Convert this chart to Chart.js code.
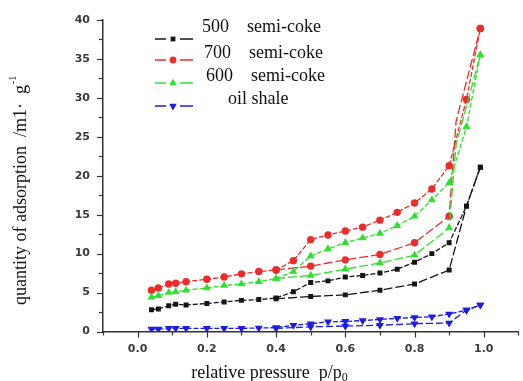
<!DOCTYPE html>
<html>
<head>
<meta charset="utf-8">
<script src="https://cdn.jsdelivr.net/npm/chart.js@4"></script>
<style>
html,body{margin:0;padding:0;background:#fff;}
#wrap{width:523px;height:381px;position:relative;}
</style>
</head>
<body>
<div id="wrap"><canvas id="c" width="523" height="381"></canvas></div>
<script>
// ---- data ----
const pUpper = [0.04,0.06,0.09,0.11,0.14,0.20,0.25,0.30,0.35,0.40,0.45,0.50,0.55,0.60,0.65,0.70,0.75,0.80,0.85,0.90,0.95,0.99];
const pLower500 = [0.40,0.50,0.60,0.70,0.80,0.90,0.95,0.99];
const pLowerSemi = [0.40,0.50,0.60,0.70,0.80,0.90,0.92,0.99];
const pLowerShale = [0.40,0.50,0.60,0.70,0.80,0.90,0.95,0.99];

const coke500Upper = [2.8,2.9,3.3,3.5,3.4,3.6,3.8,4.0,4.1,4.3,5.1,6.3,6.5,7.0,7.2,7.5,8.0,8.9,10.0,11.4,16.1,21.1];
const coke500Lower = [4.2,4.5,4.7,5.3,6.1,7.9,16.1,21.1];
const coke700Upper = [5.3,5.6,6.1,6.2,6.4,6.7,7.0,7.4,7.7,7.9,9.1,11.8,12.4,12.9,13.4,14.3,15.3,16.5,18.3,21.3,29.8,38.9];
const coke700Lower = [7.9,8.4,9.2,9.9,11.4,14.8,27.0,38.9];
const coke600Upper = [4.4,4.6,5.0,5.1,5.3,5.6,5.9,6.1,6.4,6.8,7.7,9.7,10.6,11.4,12.0,12.6,13.6,14.8,16.9,19.1,26.3,35.5];
const coke600Lower = [6.8,7.2,8.0,8.8,9.8,13.3,24.0,35.5];
const shaleUpper = [0.3,0.3,0.4,0.4,0.4,0.4,0.4,0.4,0.45,0.5,0.8,1.0,1.25,1.3,1.4,1.55,1.7,1.8,1.9,2.25,2.75,3.4];
const shaleLower = [0.4,0.6,0.7,0.8,1.0,1.1,2.75,3.4];

const legendLabels = ["500    semi-coke","700    semi-coke","600    semi-coke","oil shale"];
const xTicks = [0.0,0.2,0.4,0.6,0.8,1.0];
const yTicks = [0,5,10,15,20,25,30,35,40];

// ---- styles ----
const C_BLACK = '#151515', C_RED = '#ee2a2a', C_GREEN = '#2fe02f', C_BLUE = '#1c1ce6';
const pts = (xs, ys) => xs.map((x,i)=>({x:x, y:ys[i]}));

function ds(label, xs, ys, color, style, rot, r, dash){
  return {
    label, data: pts(xs, ys), borderColor: color, backgroundColor: color,
    borderWidth: 1.3, borderDash: dash, pointStyle: style, rotation: rot,
    pointRadius: ctx => (ctx.raw && ctx.raw.x === 0.92) ? 0 : r,
    pointBorderWidth: 0, tension: 0, fill: false
  };
}

const datasets = [
  ds('oil shale a', pUpper, shaleUpper, C_BLUE, 'triangle', 180, 4.6, [5,2]),
  ds('oil shale d', pLowerShale, shaleLower, C_BLUE, 'triangle', 180, 4.6, [7,3]),
  ds('500 a', pUpper, coke500Upper, C_BLACK, 'rect', 0, 3.5, [5,2]),
  ds('500 d', pLower500, coke500Lower, C_BLACK, 'rect', 0, 3.5, [9,3]),
  ds('600 a', pUpper, coke600Upper, C_GREEN, 'triangle', 0, 4.6, [5,2]),
  ds('600 d', pLowerSemi, coke600Lower, C_GREEN, 'triangle', 0, 4.6, [9,3]),
  ds('700 a', pUpper, coke700Upper, C_RED, 'circle', 0, 3.7, [5,2]),
  ds('700 d', pLowerSemi, coke700Lower, C_RED, 'circle', 0, 3.7, [9,3]),
];

const legendItems = [
  {text: legendLabels[0], color: C_BLACK, style: 'rect', rot: 0, r: 3.4, tx: 202, ty: 27},
  {text: legendLabels[1], color: C_RED, style: 'circle', rot: 0, r: 3.4, tx: 204, ty: 53},
  {text: legendLabels[2], color: C_GREEN, style: 'triangle', rot: 0, r: 4.4, tx: 206, ty: 76},
  {text: legendLabels[3], color: C_BLUE, style: 'triangle', rot: 180, r: 4.4, tx: 228, ty: 99},
];
const legendLineY = [39, 60, 83, 106];

const decor = {
  id: 'decor',
  afterDraw(chart){
    const ctx = chart.ctx;
    const xs = chart.scales.x, ys = chart.scales.y;
    ctx.save();
    // ticks
    ctx.strokeStyle = '#333'; ctx.lineWidth = 1.2;
    for (let v = 0; v <= 40.001; v += 2.5){
      const py = Math.round(ys.getPixelForValue(v)) + 0.5;
      const len = (Math.abs(v % 5) < 1e-6) ? 6 : 4;
      ctx.beginPath(); ctx.moveTo(xs.left - len, py); ctx.lineTo(xs.left, py); ctx.stroke();
    }
    for (let i = -1; i <= 11; i++){
      const v = i/10;
      const px = Math.round(xs.getPixelForValue(v)) + 0.5;
      const len = (i % 2 === 0) ? 6 : 4;
      ctx.beginPath(); ctx.moveTo(px, ys.bottom); ctx.lineTo(px, ys.bottom + len); ctx.stroke();
    }
    // legend
    legendItems.forEach((it, i) => {
      const ly = legendLineY[i];
      ctx.strokeStyle = it.color; ctx.lineWidth = 1.5; ctx.setLineDash([]);
      ctx.beginPath(); ctx.moveTo(155, ly); ctx.lineTo(166, ly); ctx.stroke();
      ctx.beginPath(); ctx.moveTo(180, ly); ctx.lineTo(193, ly); ctx.stroke();
      ctx.fillStyle = it.color;
      Chart.helpers.drawPoint(ctx, {pointStyle: it.style, rotation: it.rot, radius: it.r, borderWidth: 0}, 173, ly);
      ctx.fillStyle = '#111';
      ctx.font = '18px "Liberation Serif"';
      ctx.textBaseline = 'middle'; ctx.textAlign = 'left';
      ctx.fillText(it.text, it.tx, it.ty);
    });
    // axis titles
    ctx.fillStyle = '#111';
    ctx.font = '18px "Liberation Serif"';
    ctx.textBaseline = 'alphabetic';
    const xt = 'relative pressure  p/p';
    const w = ctx.measureText(xt).width;
    const x0 = 270 - (w + 7)/2;
    ctx.textAlign = 'left';
    ctx.fillText(xt, x0, 378);
    ctx.font = '12px "Liberation Serif"';
    ctx.fillText('0', x0 + w, 381);
    // y title
    ctx.save();
    ctx.translate(26, 191);
    ctx.rotate(-Math.PI/2);
    ctx.font = '18px "Liberation Serif"';
    const yt = 'quantity of adsorption  /m1·  g';
    const wy = ctx.measureText(yt).width;
    const y0 = -(wy + 8)/2;
    ctx.fillText(yt, y0, 0);
    ctx.font = '10px "Liberation Serif"';
    ctx.fillText('-1', y0 + wy + 1, -10);
    ctx.restore();
    ctx.restore();
  }
};

new Chart(document.getElementById('c'), {
  type: 'line',
  data: { datasets },
  options: {
    responsive: false, animation: false,
    layout: { padding: { left: 0, right: 4, top: 20, bottom: 0 } },
    plugins: { legend: { display: false }, tooltip: { enabled: false } },
    scales: {
      x: {
        type: 'linear', min: -0.1, max: 1.1,
        afterFit: s => { s.height = 49.5; },
        afterBuildTicks: s => { s.ticks = xTicks.map(v => ({value: v})); },
        grid: { display: false, drawTicks: false },
        border: { display: true, color: '#333', width: 1.5 },
        ticks: { padding: 11, color: '#3a3a3a', font: { family: 'DejaVu Sans', weight: 'bold', size: 11 },
                 callback: v => v.toFixed(1) }
      },
      y: {
        type: 'linear', min: 0, max: 40,
        afterFit: s => { s.width = 103; },
        afterBuildTicks: s => { s.ticks = yTicks.map(v => ({value: v})); },
        grid: { display: false, drawTicks: false },
        border: { display: true, color: '#333', width: 1.5 },
        ticks: { padding: 13, color: '#3a3a3a', font: { family: 'DejaVu Sans', weight: 'bold', size: 11 },
                 callback: v => String(v) }
      }
    }
  },
  plugins: [decor]
});
</script>
</body>
</html>
